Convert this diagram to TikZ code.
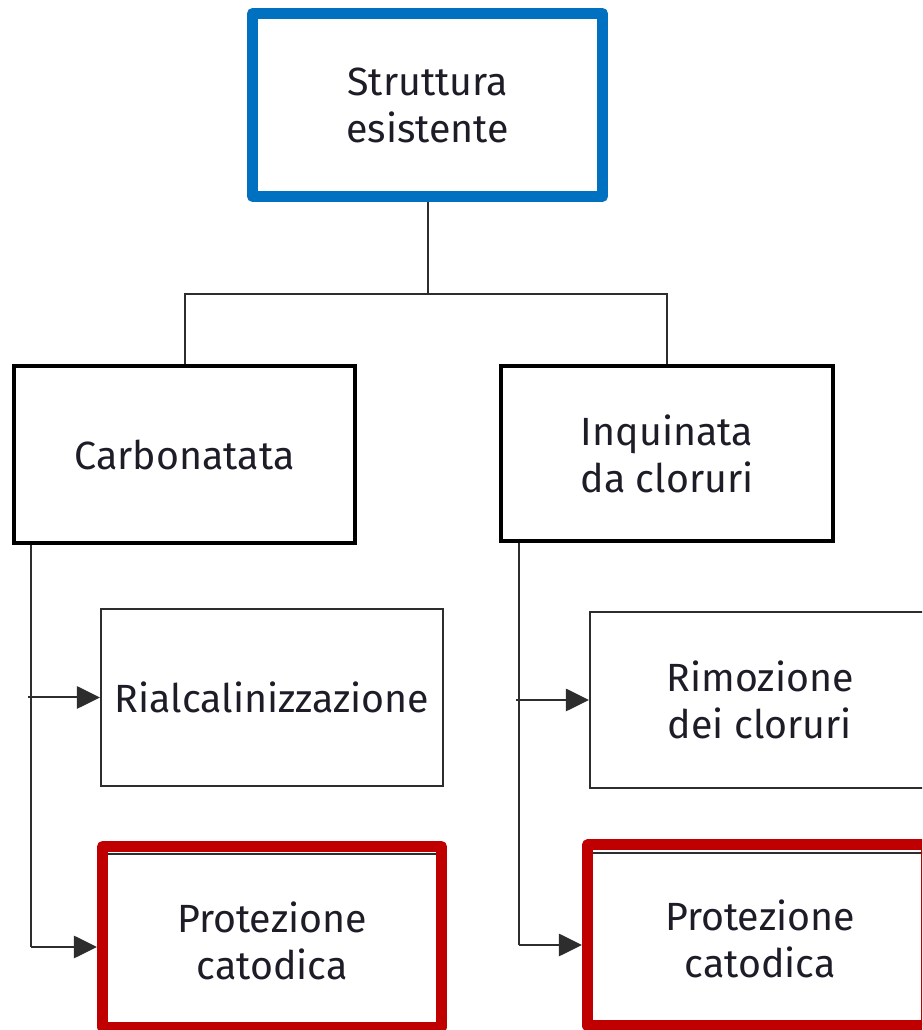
\documentclass[tikz,border=0pt]{standalone}
\usepackage{xcolor}
\usepackage{fontspec}
\setmainfont{Fira Sans}
\usepackage{tikz}
\usetikzlibrary{arrows.meta, calc}
\definecolor{rootblue}{RGB}{0, 112, 192}
\definecolor{choicered}{RGB}{192, 0, 0}
\definecolor{linegray}{RGB}{45, 45, 45}
\definecolor{textdark}{RGB}{30, 28, 38}

\begin{document}
\begin{tikzpicture}[
  root/.style={rectangle, draw=rootblue, line width=0.275cm, line join=round, align=center, text=textdark, font=\fontsize{28pt}{33.5pt}\selectfont, minimum width=8.75cm, minimum height=4.575cm},
  state/.style={rectangle, draw=black, line width=0.1cm, align=center, text=textdark, font=\fontsize{28pt}{33.5pt}\selectfont},
  remedy/.style={rectangle, draw=linegray, line width=0.05cm, align=center, text=textdark, font=\fontsize{28pt}{33.5pt}\selectfont},
  redframe/.style={rectangle, draw=choicered, line width=0.275cm, line join=round},
  link/.style={draw=linegray, line width=0.05cm},
  arrow/.style={link, -{Triangle[length=0.58cm, width=0.56cm]}}
]
  \useasboundingbox (0,0) rectangle (23.05,25.75);
  \clip (0,0) rectangle (23.05,25.75);

  % Existing structure
  \node[root] (struct) at (10.6875,23.125) {Struttura\\esistente};

  % Damage states
  \node[state, minimum width=8.525cm, minimum height=4.425cm] (carb) at (4.6125,14.3875) {Carbonatata};
  \node[state, minimum width=8.3cm, minimum height=4.375cm] (inq) at (16.675,14.4125) {Inquinata\\da cloruri};

  % Interventions
  \node[remedy, minimum width=8.55cm, minimum height=4.425cm] (realk) at (6.8,8.3125) {Rialcalinizzazione};
  \node[remedy, minimum width=8.5cm, minimum height=4.4cm] (chlor) at (19.0,8.25) {Rimozione\\dei cloruri};
  \node[remedy, minimum width=8.55cm, minimum height=4.35cm] (cathL) at (6.8,2.225) {Protezione\\catodica};
  \node[remedy, minimum width=8.5cm, minimum height=4.275cm] (cathR) at (19.0,2.2875) {Protezione\\catodica};

  % Tree connectors
  \coordinate (split) at (struct.south |- 0,18.4);
  \draw[link] (struct.south) -- (split);
  \draw[link] (carb.north) |- (split) -| (inq.north);

  % Spines
  \coordinate (spineL) at ($(carb.south west)+(0.475,0)$);
  \coordinate (endL) at (spineL |- 0,2.075);
  \coordinate (spineR) at ($(inq.south west)+(0.5,0)$);
  \coordinate (endR) at (spineR |- 0,2.125);
  \draw[link] (spineL) -- (endL);
  \draw[link] (spineR) -- (endR);

  % Arrows
  \draw[arrow] ($(spineL |- realk.west)+(-0.075,0)$) -- (realk.west);
  \draw[arrow] ($(spineR |- chlor.west)+(-0.075,0)$) -- (chlor.west);
  \draw[arrow, shorten >=0.1375cm] (endL) -- (endL -| 2.5625,0);
  \draw[arrow, shorten >=0.1375cm] (endR) -- (endR -| 14.6875,0);

  % Highlight frames
  \node[redframe, minimum width=8.475cm, minimum height=4.525cm] (frameL) at (6.8,2.325) {};
  \node[redframe, minimum width=8.4875cm, minimum height=4.525cm] (frameR) at (18.93,2.3625) {};
\end{tikzpicture}
\end{document}
